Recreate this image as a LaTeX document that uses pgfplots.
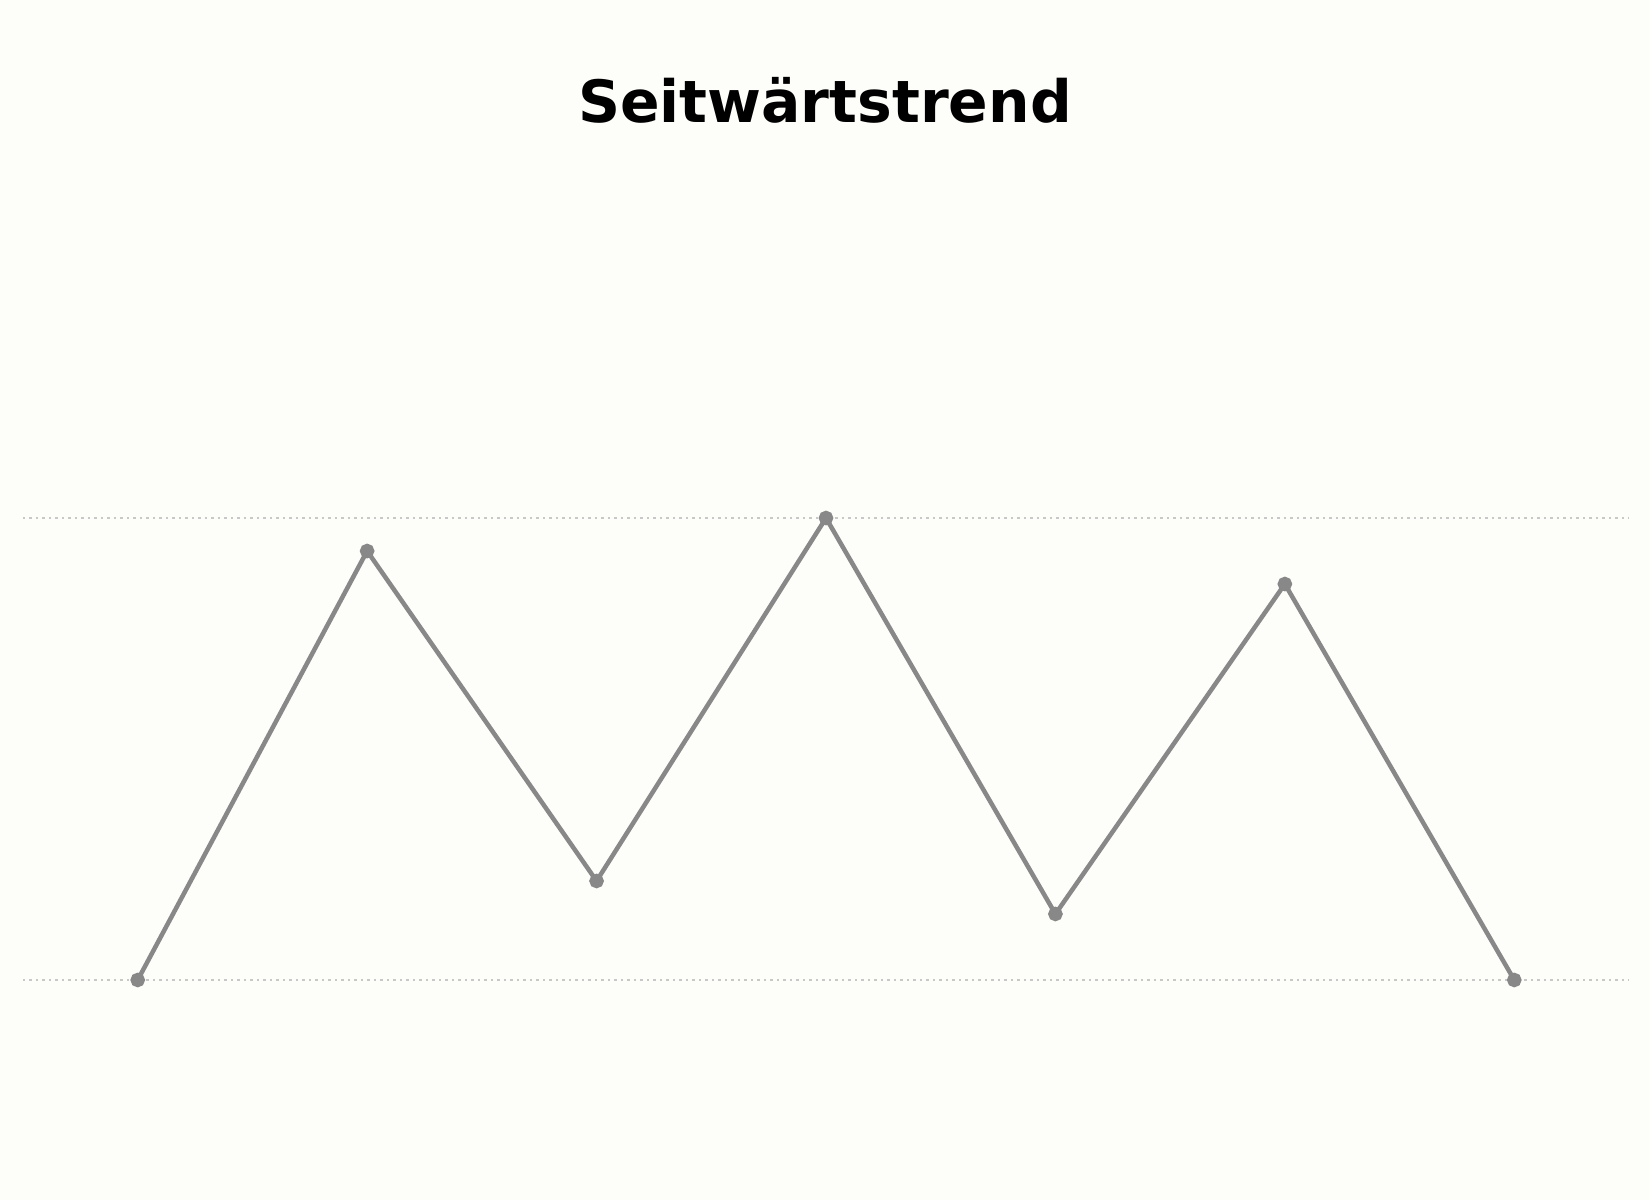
\documentclass[border=0pt]{standalone}
\usepackage{pgfplots}
\pgfplotsset{compat=1.18}
\usepackage{fontspec}
\setmainfont{DejaVu Sans}

\definecolor{bgcol}{HTML}{FDFDFA}
\definecolor{linecol}{HTML}{888888}
\definecolor{refcol}{HTML}{C8C8C8}

\begin{document}
\begin{tikzpicture}[x=1cm,y=1cm]
  % Hintergrund (1 px = 0.1 mm)
  \fill[bgcol] (0,0) rectangle (16.5,12);
  \useasboundingbox (0,0) rectangle (16.5,12);

  \begin{axis}[
    at={(0.23cm,0cm)}, anchor=south west,
    scale only axis,
    width=16.06cm, height=12cm,
    xmin=-0.5, xmax=6.5,
    ymin=66.667, ymax=248.485,
    hide axis,
    clip=false,
  ]
    % Unterstuetzung / Widerstand
    \addplot[refcol, line width=0.25mm, dash pattern=on 0.22mm off 0.43mm]
      coordinates {(-0.5,170) (6.5,170)};
    \addplot[refcol, line width=0.25mm, dash pattern=on 0.22mm off 0.43mm]
      coordinates {(-0.5,100) (6.5,100)};

    % Kursverlauf
    \addplot[linecol, line width=0.45mm, mark=*, mark size=0.5mm,
             mark options={fill=linecol, draw=linecol}]
      coordinates {
        (0,100)
        (1,165)
        (2,115)
        (3,170)
        (4,110)
        (5,160)
        (6,100)
      };
  \end{axis}

  \node[font=\fontsize{16.6pt}{20pt}\selectfont\bfseries] at (8.25,11.0) {Seitwärtstrend};
\end{tikzpicture}
\end{document}
